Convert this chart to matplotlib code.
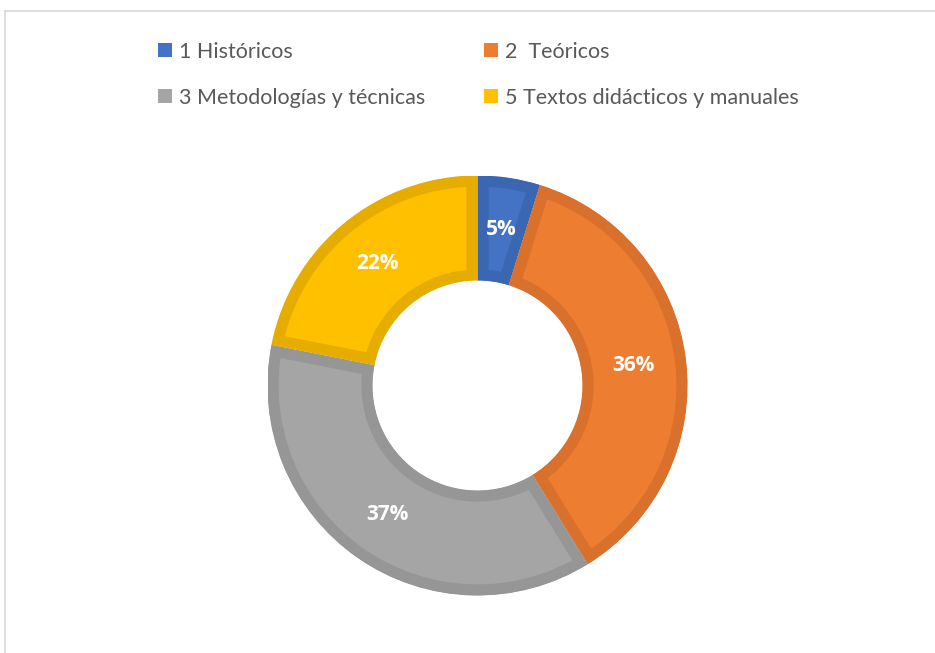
import matplotlib
matplotlib.use("Agg")
import matplotlib.pyplot as plt
from matplotlib.patches import Patch, Wedge
from matplotlib.lines import Line2D

labels = ["1 Históricos", "2  Teóricos", "3 Metodologías y técnicas", "5 Textos didácticos y manuales"]
values = [4.8, 36.4, 36.9, 21.9]
fills = ["#4472C4", "#ED7D31", "#A5A5A5", "#FFC000"]
edges = ["#3B66B2", "#D9712C", "#969696", "#E6AD00"]

plt.rcParams["font.family"] = ["Lato", "DejaVu Sans"]

W, H = 935, 653
fig = plt.figure(figsize=(W / 100, H / 100), dpi=100)

# donut: center (477.5, 385.5) px, outer radius 210 px
cx, cy, r = 477.5, 385.5, 210
ax = fig.add_axes([(cx - r) / W, (H - cy - r) / H, 2 * r / W, 2 * r / H])
ax.axis("off")

wedges, texts, autotexts = ax.pie(
    values, colors=fills, startangle=90, counterclock=False, radius=1,
    wedgeprops=dict(width=0.5, linewidth=0),
    autopct=lambda p: f"{p:.0f}%", pctdistance=0.75,
    textprops=dict(color="white", fontsize=15, fontweight="bold",
                   family=["Open Sans", "DejaVu Sans"]),
)
ax.set_xlim(-1, 1)
ax.set_ylim(-1, 1)
ax.set_aspect("equal")

# darker inner border on each slice (stroke clipped to a copy of the slice)
for w, ec in zip(wedges, edges):
    clip = Wedge(w.center, w.r, w.theta1, w.theta2, width=w.width, transform=ax.transData)
    w.set_edgecolor(ec)
    w.set_linewidth(16)
    w.set_clip_on(True)
    w.set_clip_path(clip)

# legend, two rows
order = [0, 2, 1, 3]
handles = [Patch(facecolor=fills[i], edgecolor="none") for i in order]
fig.legend(handles, [labels[i] for i in order], ncol=2, loc="upper left",
           bbox_to_anchor=(139 / W, 1 - 22.5 / H), frameon=False,
           fontsize=15.5, labelcolor="#595959", handlelength=0.65, handleheight=0.65,
           handletextpad=0.3, columnspacing=2.75, labelspacing=1.2)

# chart area frame (top and left edges visible)
fig.add_artist(Line2D([4.5 / W, 4.5 / W], [0, 1 - 10.5 / H], color="#D9D9D9", lw=1.2))
fig.add_artist(Line2D([4.5 / W, 1], [1 - 10.5 / H, 1 - 10.5 / H], color="#D9D9D9", lw=1.2))

fig.savefig("out.png", dpi=100)
